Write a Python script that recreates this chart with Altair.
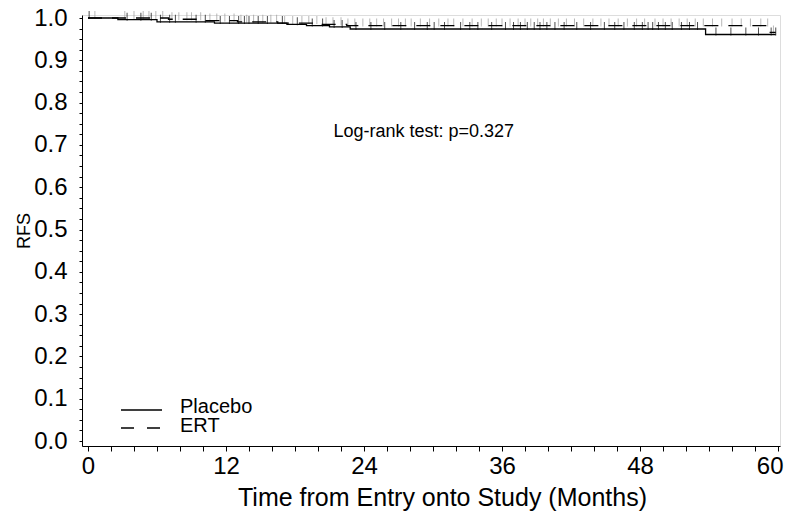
import altair as alt
import pandas as pd

groups = ["Placebo", "ERT"]

placebo_times = [0, 2.6, 6.0, 11.0, 17.3, 19.0, 21.0, 22.8, 53.7, 59.8]
placebo_surv = [1.0, 0.996, 0.991, 0.988, 0.985, 0.982, 0.979, 0.974, 0.961, 0.961]
ert_times = [0, 7.0, 10.0, 13.0, 16.5, 20.0, 22.5, 59.2, 59.8]
ert_surv = [1.0, 0.997, 0.994, 0.991, 0.988, 0.985, 0.982, 0.966, 0.966]

placebo_censor = [0.1, 3.4, 4.6, 5.5, 6.3, 7.1, 7.6, 9.4, 10.2, 11.5, 12.3, 13.1, 13.6, 14.0,
                  14.8, 15.6, 16.9, 18.2, 19.5, 20.4, 21.4, 22.1, 23.3, 24.6, 25.8, 27.2, 28.4,
                  29.5, 30.1, 31.0, 32.4, 33.2, 33.9, 35.1, 36.3, 37.0, 37.6, 38.2, 38.8, 39.3,
                  39.9, 40.6, 41.4, 42.5, 43.7, 44.9, 45.8, 46.6, 47.5, 48.2, 48.7, 49.1, 49.6,
                  50.2, 50.8, 51.6, 52.3, 53.0, 54.6, 55.9, 57.2, 58.3, 59.4, 59.8]
ert_censor = [0.6, 3.2, 4.0, 4.8, 5.3, 5.9, 6.5, 7.3, 7.9, 8.6, 9.0, 9.8, 10.6, 11.2, 11.9,
              12.7, 13.3, 13.8, 14.4, 15.2, 15.9, 16.4, 17.1, 17.8, 18.6, 19.2, 19.9, 20.7,
              21.3, 22.0, 22.6, 23.2, 23.9, 24.5, 25.1, 25.7, 26.4, 27.0, 27.6, 28.1, 28.9,
              29.7, 30.5, 31.3, 31.8, 32.6, 33.4, 34.2, 34.8, 35.5, 36.0, 36.7, 37.4, 38.0,
              38.5, 39.1, 39.6, 40.2, 40.9, 41.6, 42.3, 43.1, 43.9, 44.6, 45.3, 46.1, 46.9,
              47.7, 48.4, 49.3, 50.0, 50.7, 51.4, 52.1, 52.8, 53.5, 54.3, 55.1, 56.0, 56.8,
              57.6, 58.5, 59.1, 59.6]

annotation = "Log-rank test: p=0.327"
annot_x = [29.2]
annot_y = [0.73]

FONT = "Liberation Sans"
X_DOMAIN = [-0.52, 60.17]
Y_DOMAIN = [-0.0118, 1.0071]
SOLID = [1, 0]
DASH = [14, 10]


def surv_at(t, times, surv):
    s = surv[0]
    for ti, si in zip(times, surv):
        if ti <= t:
            s = si
    return s


curve_df = pd.concat([
    pd.DataFrame({"time": placebo_times, "surv": placebo_surv, "group": "Placebo"}),
    pd.DataFrame({"time": ert_times, "surv": ert_surv, "group": "ERT"}),
])
cens_df = pd.concat([
    pd.DataFrame({"time": ert_censor,
                  "surv": [surv_at(t, ert_times, ert_surv) for t in ert_censor],
                  "cgroup": "ERT", "order": 0}),
    pd.DataFrame({"time": placebo_censor,
                  "surv": [surv_at(t, placebo_times, placebo_surv) for t in placebo_censor],
                  "cgroup": "Placebo", "order": 1}),
])
annot_df = pd.DataFrame({"time": annot_x, "surv": annot_y, "t": [annotation]})

x_axis = alt.Axis(
    values=list(range(0, 61, 2)),
    labelExpr="datum.value % 12 == 0 ? datum.label : ''",
    title="Time from Entry onto Study (Months)",
    titleFont=FONT, titleFontSize=25, titleFontWeight="normal", titleColor="black",
    titlePadding=7, titleX=360,
    labelFont=FONT, labelFontSize=24, labelColor="black", labelPadding=3,
    labelFlush=False, labelOverlap=False,
    labelAlign={"condition": {"test": "datum.value >= 60", "value": "right"}, "value": "center"},
    labelOffset={"condition": {"test": "datum.value >= 60", "value": 5}, "value": 0},
    tickSize=5, tickColor="black", domainColor="black", grid=False,
)
y_axis = alt.Axis(
    values=[i / 40 for i in range(41)],
    labelExpr="abs(datum.value*10 - round(datum.value*10)) < 0.000001 ? format(datum.value, '.1f') : ''",
    title="RFS",
    titleFont=FONT, titleFontSize=18, titleFontWeight="normal", titleColor="black",
    titlePadding=0,
    labelFont=FONT, labelFontSize=24, labelColor="black", labelPadding=12,
    labelFlush=False, labelOverlap=False,
    tickSize=3, tickColor="black", domainColor="black", grid=False,
)

x_enc = alt.X("time:Q", scale=alt.Scale(domain=X_DOMAIN, nice=False, zero=False), axis=x_axis)
y_enc = alt.Y("surv:Q", scale=alt.Scale(domain=Y_DOMAIN, nice=False, zero=False), axis=y_axis)

ticks = alt.Chart(cens_df).mark_tick(orient="vertical", size=8, thickness=1, yOffset=-3).encode(
    x=x_enc, y=y_enc,
    color=alt.Color("cgroup:N", scale=alt.Scale(domain=groups, range=["#000000", "#9a9a9a"]), legend=None),
    order=alt.Order("order:Q"),
)

lines = alt.Chart(curve_df).mark_line(interpolate="step-after", color="black", strokeWidth=1.3).encode(
    x=x_enc, y=y_enc,
    strokeDash=alt.StrokeDash("group:N", scale=alt.Scale(domain=groups, range=[SOLID, DASH]), legend=None),
)

text = alt.Chart(annot_df).mark_text(font=FONT, fontSize=18, color="black").encode(
    x=x_enc, y=y_enc, text="t:N",
)

# legend (drawn by hand, in pixel positions inside the plot area)
leg_layers = []
for i, (g, dash) in enumerate(zip(groups, [SOLID, [13, 13]])):
    ldf = pd.DataFrame({"label": [g]})
    base = alt.Chart(ldf)
    leg_layers.append(base.mark_rule(color="black", strokeWidth=1.3, strokeDash=dash).encode(
        x=alt.value(39), x2=alt.value(80), y=alt.value(395 + 18 * i)))
    leg_layers.append(base.mark_text(font=FONT, fontSize=20, color="black", align="left",
                                     baseline="middle").encode(
        x=alt.value(98), y=alt.value(392 + 19 * i), text="label:N"))

chart = alt.layer(ticks, lines, text, *leg_layers).properties(
    width=698, height=431,
    padding={"left": 74, "top": 7, "right": 4, "bottom": 65},
    autosize=alt.AutoSizeParams(type="none"),
).configure_view(stroke=None).configure(background="white")

chart.save("out.html", embed_options={"renderer": "svg", "actions": False})
